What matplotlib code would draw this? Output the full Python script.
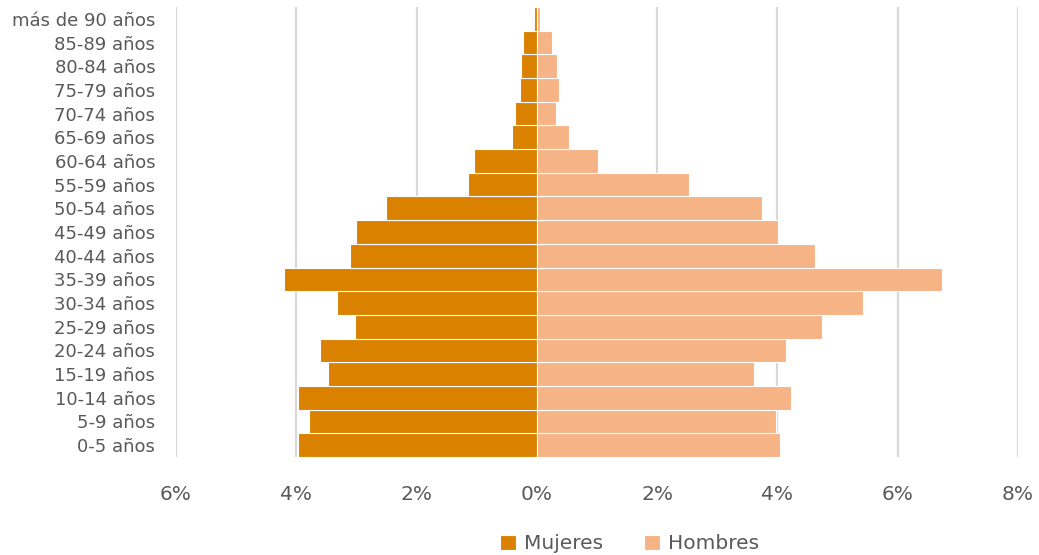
import matplotlib
matplotlib.use("Agg")
import matplotlib.pyplot as plt
from matplotlib.ticker import FuncFormatter

# grupos de edad, de menor a mayor (abajo -> arriba)
grupos = ["0-5 años", "5-9 años", "10-14 años", "15-19 años", "20-24 años",
          "25-29 años", "30-34 años", "35-39 años", "40-44 años", "45-49 años",
          "50-54 años", "55-59 años", "60-64 años", "65-69 años", "70-74 años",
          "75-79 años", "80-84 años", "85-89 años", "más de 90 años"]

# porcentaje de la población (%)
mujeres = [3.97, 3.79, 3.97, 3.47, 3.61, 3.03, 3.33, 4.20, 3.11, 3.00,
           2.51, 1.14, 1.04, 0.42, 0.37, 0.28, 0.26, 0.23, 0.04]
hombres = [4.05, 3.97, 4.23, 3.61, 4.15, 4.74, 5.42, 6.73, 4.63, 4.01,
           3.75, 2.53, 1.02, 0.54, 0.32, 0.36, 0.33, 0.25, 0.06]

xticks = [-6, -4, -2, 0, 2, 4, 6, 8]

c_muj = "#DA8200"
c_hom = "#F6B386"
gris = "#595959"

plt.rcParams['font.family'] = ['DejaVu Sans']

fig = plt.figure(figsize=(10.39, 5.55), dpi=100)
ax = fig.add_axes([176 / 1039, 1 - 457 / 555, (1018 - 176) / 1039, 450 / 555])

y = range(len(grupos))
ax.barh(y, [-v for v in mujeres], height=1.0, color=c_muj, edgecolor="white",
        linewidth=0.8, label="Mujeres", zorder=3)
ax.barh(y, hombres, height=1.0, color=c_hom, edgecolor="white",
        linewidth=0.8, label="Hombres", zorder=3)

ax.set_xlim(-6, 8)
ax.set_ylim(-0.5, len(grupos) - 0.5)
ax.set_xticks(xticks)
ax.xaxis.set_major_formatter(FuncFormatter(lambda v, p: f"{abs(v):.0f}%"))
ax.set_yticks(list(y))
ax.set_yticklabels(grupos)

ax.grid(axis="x", color="#D9D9D9", linewidth=1.6, zorder=0)
ax.set_axisbelow(True)
for s in ax.spines.values():
    s.set_visible(False)
ax.tick_params(axis="both", length=0)
ax.tick_params(axis="x", labelsize=14.5, labelcolor=gris, pad=20)
ax.tick_params(axis="y", labelsize=13, labelcolor=gris, pad=15)

fig.legend(loc="center", bbox_to_anchor=(0.606, 0.02), ncol=2, frameon=False,
           fontsize=14.5, labelcolor=gris, handlelength=0.8, handleheight=0.8,
           columnspacing=2.0, handletextpad=0.4)

fig.savefig("out.png", dpi=100)
